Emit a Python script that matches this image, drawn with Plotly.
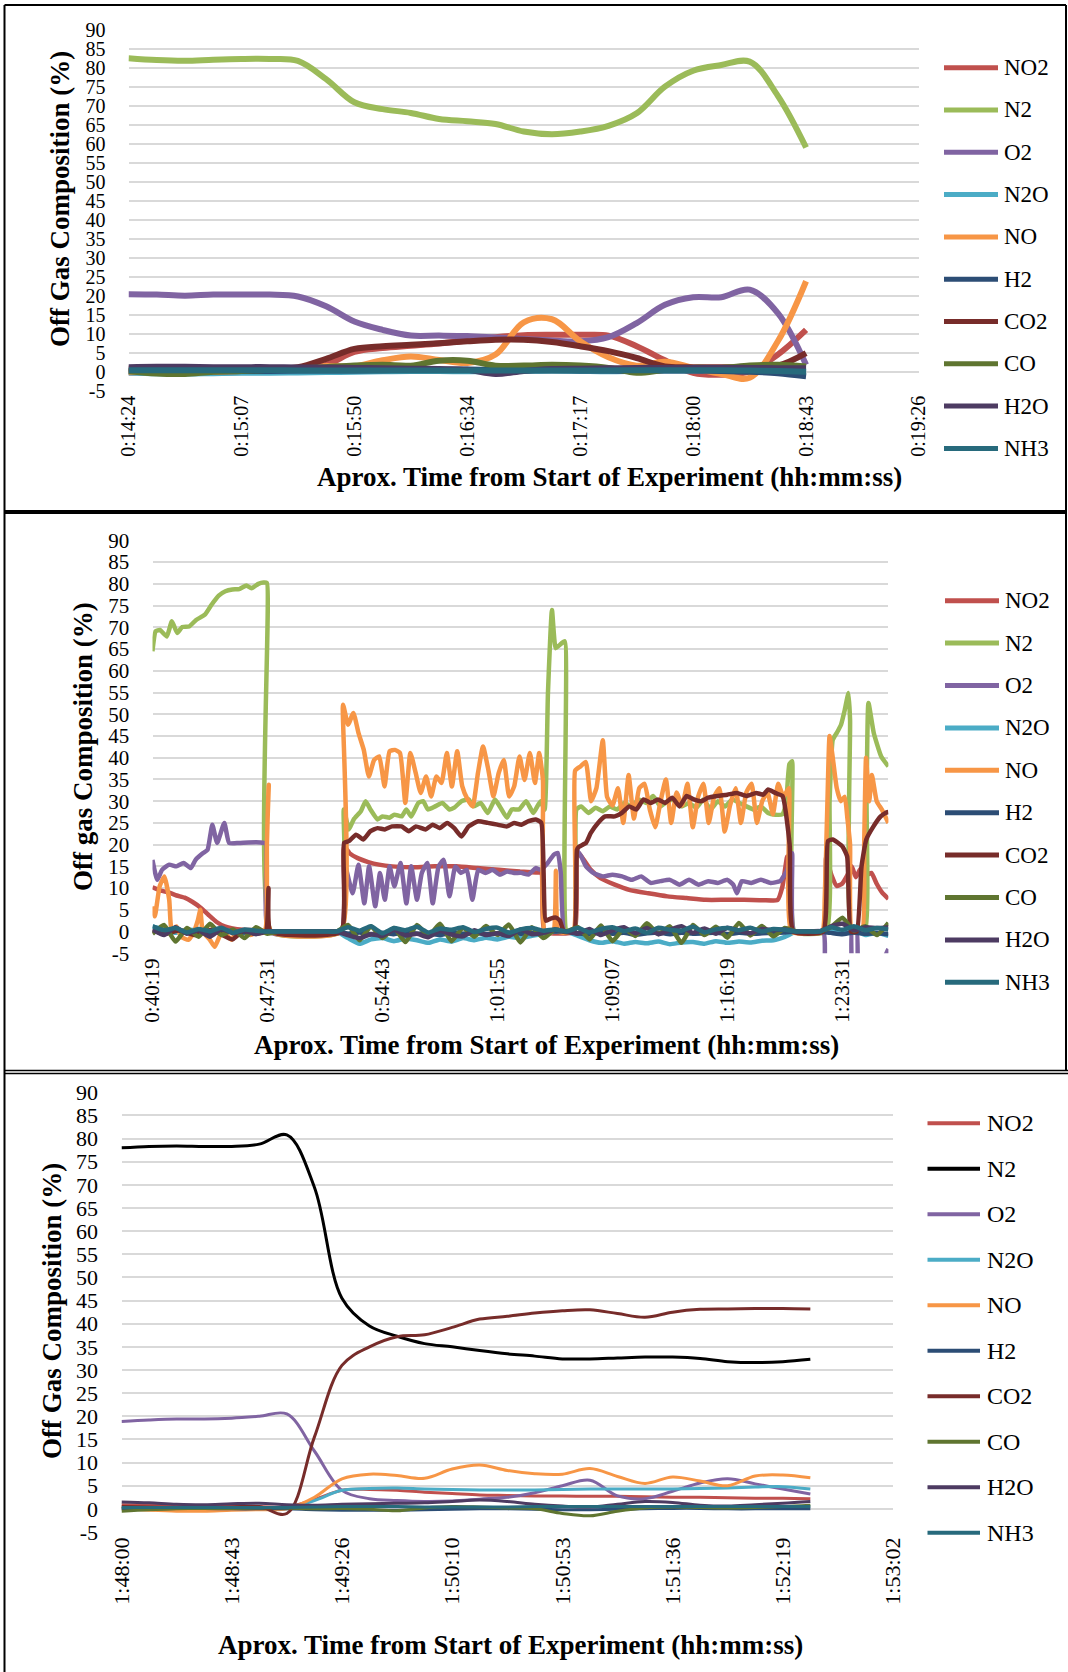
import plotly.graph_objects as go

W, H = 1068, 1672
SERIF = "Liberation Serif, Times New Roman, serif"

SPECIES = ["NO2", "N2", "O2", "N2O", "NO", "H2", "CO2", "CO", "H2O", "NH3"]
COLOR = {"NO2": "#C0504D", "N2": "#9BBB59", "O2": "#8064A2", "N2O": "#4BACC6",
         "NO": "#F79646", "H2": "#2C4D75", "CO2": "#772C2A", "CO": "#5F7530",
         "H2O": "#4D3B62", "NH3": "#276A7C"}

Y_TICKS = list(range(-5, 95, 5))

# ---------------- Run 1: 0:14:24 - 0:18:43 (times in seconds) ----------------
RUN1_TICKS = ["0:14:24", "0:15:07", "0:15:50", "0:16:34", "0:17:17", "0:18:00", "0:18:43", "0:19:26"]
RUN1_T = [864.0, 874.8, 885.6, 896.4, 907.2, 918.0, 928.8, 939.6, 950.4, 961.2, 972.0, 982.8,
          993.6, 1004.4, 1015.2, 1026.0, 1036.8, 1047.6, 1058.4, 1069.2, 1080.0, 1090.8,
          1101.6, 1112.4, 1123.2]
RUN1_NO2 = [-0.2, -0.2, -0.2, -0.2, -0.1, 0.0, 0.5, 1.8, 5.2, 6.2, 6.8, 7.4, 8.2, 9.1, 9.6,
            9.7, 9.7, 9.5, 6.7, 3.0, -0.3, -0.8, 0.1, 4.5, 11.0]
RUN1_N2 = [82.5, 82.0, 81.8, 82.1, 82.3, 82.3, 81.8, 77.0, 70.9, 69.1, 68.1, 66.5, 65.9, 65.2,
           63.2, 62.5, 63.2, 64.7, 68.0, 75.0, 79.2, 80.7, 81.6, 72.6, 59.0]
RUN1_O2 = [20.4, 20.3, 20.0, 20.3, 20.3, 20.3, 19.8, 17.2, 13.2, 11.0, 9.5, 9.5, 9.4, 9.0, 8.6,
           8.2, 8.0, 9.1, 12.8, 17.6, 19.6, 19.6, 21.6, 15.4, 1.8]
RUN1_N2O = [-0.2, -0.4, -0.5, -0.4, -0.3, -0.3, -0.2, -0.1, 0.0, 0.1, 0.2, 0.2, 0.1, 0.1, 0.2,
            0.3, 0.2, 0.1, 0.2, 0.3, 0.3, 0.3, 0.4, 0.5, 0.6]
RUN1_NO = [0.0, 0.0, 0.0, 0.0, 0.2, 0.5, 1.0, 1.5, 1.4, 3.0, 4.0, 3.1, 2.3, 4.5, 13.0, 13.8,
           8.0, 3.8, 1.6, 2.6, 1.0, -0.6, -1.6, 8.0, 23.8]
RUN1_H2 = [0.2, 0.2, 0.1, 0.1, 0.2, 0.2, 0.3, 0.3, 0.3, 0.4, 0.5, 0.5, 0.6, 0.5, 0.4, 0.4, 0.3,
           0.3, 0.2, 0.3, 0.3, 0.2, 0.0, -0.4, -1.2]
RUN1_CO2 = [0.8, 0.8, 0.8, 0.8, 0.8, 0.8, 1.2, 3.4, 6.0, 6.7, 7.1, 7.5, 8.0, 8.4, 8.4, 7.8,
            6.7, 5.4, 3.6, 1.4, 1.2, 1.2, 1.2, 1.6, 4.9]
RUN1_CO = [0.1, -0.5, -0.6, 0.0, 0.2, 0.5, 0.8, 1.2, 1.6, 1.8, 1.6, 2.9, 2.9, 1.6, 1.6, 1.8,
           1.6, 1.0, -0.3, 0.5, 1.0, 1.0, 1.6, 1.8, 1.4]
RUN1_H2O = [1.2, 1.3, 1.3, 1.2, 1.2, 1.2, 1.1, 1.1, 1.0, 0.9, 0.8, 0.7, 0.5, -0.6, 0.2, 0.7,
            0.8, 0.9, 1.0, 1.0, 1.0, 1.0, 1.0, 0.9, 0.9]
RUN1_NH3 = [0.4, 0.4, 0.4, 0.4, 0.4, 0.4, 0.3, 0.3, 0.3, 0.3, 0.3, 0.3, 0.3, 0.3, 0.3, 0.3,
            0.3, 0.3, 0.4, 0.4, 0.4, 0.4, 0.3, 0.2, 0.0]

# ---------------- Run 2: 0:40:19 - 1:26:24 ----------------
RUN2_TICKS = ["0:40:19", "0:47:31", "0:54:43", "1:01:55", "1:09:07", "1:16:19", "1:23:31"]

# main gases as (time s, %) readings
RUN2_N2 = [
    (2419, 64.5), (2431, 69.1), (2447, 69.4), (2473, 67.9), (2492, 71.4), (2512, 68.7),
    (2531, 70.1), (2557, 70.2), (2583, 71.7), (2616, 72.9), (2641, 75.2), (2668, 77.3),
    (2693, 78.3), (2719, 78.7), (2745, 78.8), (2772, 79.6), (2791, 79.0), (2817, 80.0),
    (2836, 80.3), (2849, 80.2), (2866, 0.0), (3128, 0.0),
    (3138, 28.1), (3157, 23.5), (3175, 25.8), (3202, 27.7), (3220, 30.0), (3238, 28.1),
    (3265, 25.8), (3283, 26.5), (3310, 26.2), (3328, 26.9), (3355, 26.5), (3373, 28.1),
    (3391, 26.5), (3418, 29.6), (3436, 30.0), (3454, 28.1), (3481, 28.8), (3508, 29.6),
    (3535, 28.1), (3553, 28.5), (3580, 30.0), (3607, 30.4), (3625, 28.8), (3652, 29.6),
    (3679, 27.3), (3706, 30.4), (3724, 28.8), (3751, 26.2), (3769, 28.1), (3796, 28.1),
    (3823, 30.0), (3850, 27.3), (3877, 30.0), (3892, 28.0),
    (3905, 55.0), (3920, 74.0), (3934, 65.2), (3950, 66.0), (3968, 66.8), (3975, 0.0), (4003, 0.0),
    (4012, 28.1), (4030, 28.8), (4057, 27.3), (4084, 28.5), (4111, 27.7), (4138, 28.8),
    (4165, 28.1), (4192, 29.6), (4219, 28.8), (4246, 30.4), (4273, 29.6), (4300, 31.2),
    (4327, 28.8), (4354, 30.0), (4381, 30.4), (4408, 28.8), (4435, 29.6), (4462, 28.5),
    (4489, 30.4), (4516, 28.1), (4543, 30.0), (4570, 28.8), (4597, 30.4), (4624, 29.6),
    (4651, 28.8), (4678, 28.1), (4705, 28.8), (4732, 27.3), (4759, 26.9), (4786, 27.0),
    (4800, 30.0), (4812, 38.5), (4822, 39.2), (4832, 0.0), (4950, 0.0),
    (4963, 30.0), (4975, 44.1), (4990, 45.7), (5006, 47.6), (5020, 51.0), (5034, 54.9),
    (5040, 48.7), (5046, 0.0), (5095, 0.0), (5102, 30.0), (5109, 52.6), (5129, 45.7),
    (5157, 40.3), (5184, 38.0),
]
RUN2_NO = [
    (2419, 5.8), (2428, 3.5), (2446, 10.4), (2464, 12.7), (2482, 7.3), (2491, 0.4),
    (2509, 1.2), (2527, -1.2), (2554, -1.9), (2572, -0.4), (2590, 2.7), (2599, 5.0),
    (2608, 0.0), (2635, -1.9), (2653, -3.5), (2680, 0.0), (2698, -0.8), (2716, -1.9),
    (2734, 0.0), (2761, 0.0), (2788, -0.8), (2815, 0.0), (2842, 0.4), (2849, 20.0),
    (2856, 33.8), (2865, 0.0), (3128, 0.0),
    (3135, 52.2), (3154, 47.6), (3174, 50.3), (3193, 45.7), (3213, 41.8), (3232, 35.7),
    (3252, 39.5), (3271, 40.3), (3291, 33.4), (3310, 41.5), (3330, 41.8), (3349, 41.1),
    (3369, 29.6), (3388, 41.1), (3408, 36.5), (3427, 31.9), (3447, 35.7), (3466, 31.1),
    (3486, 35.7), (3505, 34.2), (3525, 41.1), (3544, 33.4), (3564, 41.5), (3583, 33.4),
    (3603, 30.4), (3622, 28.8), (3642, 36.5), (3661, 42.6), (3681, 37.2), (3700, 31.1),
    (3720, 36.5), (3739, 39.5), (3759, 31.1), (3778, 33.4), (3798, 40.3), (3817, 34.9),
    (3837, 41.1), (3856, 34.2), (3872, 41.1), (3886, 34.9), (3893, 0.0), (3925, 0.0),
    (3935, 14.0), (3945, 0.0), (4000, 0.0),
    (4007, 37.0), (4027, 38.0), (4047, 39.0), (4067, 30.0), (4087, 33.0), (4111, 44.0),
    (4127, 31.0), (4147, 29.0), (4168, 33.0), (4188, 25.0), (4208, 36.0), (4228, 26.0),
    (4248, 33.0), (4268, 34.0), (4288, 28.0), (4308, 24.0), (4328, 30.0), (4348, 35.0),
    (4368, 25.0), (4388, 32.0), (4409, 29.0), (4429, 34.0), (4449, 24.0), (4469, 31.0),
    (4489, 34.0), (4509, 25.0), (4529, 31.0), (4549, 33.0), (4569, 23.0), (4589, 29.0),
    (4610, 33.0), (4630, 25.0), (4650, 32.0), (4670, 34.0), (4690, 25.0), (4710, 30.0),
    (4730, 32.0), (4750, 27.0), (4770, 34.0), (4790, 31.0), (4810, 33.0), (4820, 0.0),
    (4935, 0.0),
    (4945, 8.0), (4955, 30.0), (4963, 45.0), (4975, 40.0), (4990, 33.0), (5005, 30.0),
    (5020, 31.0), (5030, 26.0), (5040, 20.0), (5047, 0.0), (5085, 0.0), (5093, 20.0),
    (5100, 40.0), (5112, 30.0), (5122, 36.0), (5140, 30.0), (5160, 28.0), (5184, 25.0),
]
RUN2_CO2 = [
    (2419, 0.2), (2470, -0.5), (2520, 0.3), (2580, -0.8), (2640, 0.4), (2720, -1.8),
    (2760, 0.2), (2800, -0.5), (2845, 0.0), (2855, 10.0), (2863, 0.0), (3128, 0.0),
    (3139, 20.4), (3157, 20.8), (3184, 22.3), (3211, 21.2), (3238, 23.1), (3265, 23.8),
    (3292, 23.5), (3319, 24.2), (3355, 24.2), (3382, 23.1), (3409, 24.2), (3445, 23.5),
    (3472, 24.6), (3499, 23.8), (3526, 25.0), (3553, 23.8), (3580, 21.9), (3607, 24.2),
    (3643, 25.4), (3679, 25.0), (3715, 24.6), (3751, 24.2), (3778, 25.0), (3805, 24.6),
    (3832, 25.4), (3859, 25.8), (3880, 25.0), (3897, 2.5), (3915, 3.0), (3935, 3.2),
    (3950, 2.5), (3965, 0.0), (4003, 0.0),
    (4014, 18.8), (4021, 19.5), (4048, 20.4), (4066, 22.7), (4093, 25.0), (4120, 26.5),
    (4156, 26.5), (4183, 27.3), (4210, 28.8), (4237, 28.1), (4264, 30.4), (4291, 29.6),
    (4318, 30.4), (4345, 29.6), (4372, 30.8), (4399, 28.8), (4426, 31.2), (4453, 30.4),
    (4480, 30.0), (4507, 30.8), (4543, 31.2), (4579, 31.5), (4615, 31.9), (4651, 31.2),
    (4687, 31.9), (4714, 31.5), (4732, 32.7), (4759, 31.9), (4786, 31.2), (4813, 20.0),
    (4827, 0.0), (4939, 0.0),
    (4957, 20.8), (4975, 21.2), (5011, 19.6), (5029, 17.3), (5043, 0.0), (5065, 0.0),
    (5083, 15.0), (5101, 21.2), (5128, 24.2), (5155, 26.5), (5173, 27.3), (5184, 27.5),
]
RUN2_NO2 = [
    (2419, 10.2), (2450, 9.4), (2480, 9.0), (2510, 8.3), (2540, 7.8), (2570, 6.8),
    (2600, 5.5), (2630, 3.8), (2660, 2.2), (2690, 1.2), (2720, 0.7), (2760, 0.4),
    (2800, 0.3), (2850, 0.1), (2866, 0.0), (3128, 0.0),
    (3139, 19.6), (3160, 18.0), (3190, 16.9), (3230, 16.0), (3270, 15.4), (3320, 15.0),
    (3400, 14.8), (3480, 15.0), (3560, 15.0), (3640, 14.6), (3720, 14.2), (3800, 13.8),
    (3860, 13.6), (3880, 13.5), (3893, 0.0), (4003, 0.0),
    (4014, 18.5), (4040, 16.5), (4066, 14.2), (4102, 12.3), (4156, 10.8), (4210, 9.6),
    (4282, 8.8), (4354, 8.1), (4426, 7.7), (4498, 7.3), (4570, 7.3), (4642, 7.3),
    (4714, 7.2), (4768, 7.3), (4786, 10.4), (4804, 17.3), (4818, 10.0), (4826, 0.0),
    (4939, 0.0),
    (4950, 17.0), (4970, 13.0), (4990, 10.5), (5010, 11.0), (5030, 13.0), (5046, 15.0),
    (5062, 12.5), (5080, 14.5), (5100, 13.0), (5120, 13.5), (5140, 11.0), (5160, 9.0),
    (5184, 7.5),
]
RUN2_O2 = [
    (2419, 16.5), (2437, 11.9), (2455, 14.2), (2482, 15.4), (2509, 15.0), (2536, 15.8),
    (2563, 14.6), (2581, 16.5), (2608, 18.0), (2626, 18.8), (2644, 24.6), (2662, 20.4),
    (2689, 25.0), (2707, 20.4), (2743, 20.4), (2779, 20.5), (2824, 20.5), (2845, 20.2),
    (2856, 0.0), (3128, 0.0),
    (3140, 15.8), (3171, 8.8), (3193, 15.4), (3215, 6.5), (3233, 15.0), (3256, 5.8),
    (3274, 13.5), (3292, 7.3), (3310, 15.0), (3328, 10.4), (3351, 15.8), (3373, 6.5),
    (3391, 15.0), (3413, 7.3), (3431, 13.5), (3452, 15.8), (3472, 6.5), (3494, 15.0),
    (3513, 16.5), (3535, 8.1), (3557, 15.0), (3578, 13.5), (3600, 14.2), (3621, 7.3),
    (3643, 14.2), (3670, 13.5), (3697, 14.2), (3724, 13.1), (3751, 13.8), (3778, 13.5),
    (3805, 13.5), (3832, 13.1), (3859, 14.6), (3877, 14.2), (3904, 15.8), (3927, 17.7),
    (3942, 18.1), (3953, 13.5), (3967, 0.0), (4003, 0.0),
    (4012, 18.8), (4030, 17.3), (4048, 15.0), (4075, 13.5), (4111, 12.7), (4147, 13.1),
    (4183, 12.7), (4219, 11.9), (4255, 12.7), (4291, 11.2), (4327, 11.6), (4363, 11.9),
    (4399, 10.8), (4435, 11.9), (4471, 10.8), (4507, 11.6), (4543, 11.2), (4579, 11.9),
    (4601, 10.8), (4615, 8.8), (4633, 11.6), (4669, 11.2), (4705, 11.9), (4741, 11.2),
    (4777, 11.6), (4804, 14.2), (4822, 18.0), (4830, 0.0), (4939, 0.0),
    (4950, -15.0), (5040, -15.0), (5047, 0.0), (5065, 0.0), (5075, -15.0), (5150, -12.0),
    (5170, -6.0), (5184, -4.0),
]

# minor gases, one reading every 43.2 s from 0:40:19
RUN2_MINOR_START, RUN2_MINOR_STEP = 2419.2, 43.2
RUN2_N2O = [1.2, 0.5, -0.3, 0.4, 0.2, -0.5, 0.3, 0.1, -0.4, 0.2, 0.0,
            0, 0, 0, 0, 0, 0,
            -1.5, -2.8, -1.8, -1.5, -2.2, -1.6, -2.0, -2.6, -1.8, -2.3, -1.5, -2.0, -1.4, -1.8,
            -1.2, -1.5, -1.0, -0.5,
            0.0, 0.0,
            -1.0, -2.0, -2.6, -2.2, -2.8, -2.4, -2.7, -2.3, -2.9, -2.5, -2.4, -2.8, -2.2, -2.6,
            -2.3, -2.5, -2.1, -2.0, -1.2,
            0.0, 0.0, 0.0,
            0.3, -0.5, 0.4, -0.8, -0.3, -1.0]
RUN2_CO = [-0.5, 1.5, -2.3, 0.8, -1.2, 1.8, -0.8, 0.5, -1.5, 1.0, -0.5,
           0, 0, 0, 0, 0, 0,
           1.5, -2.0, 1.2, -1.5, 0.8, -2.4, 1.5, -1.0, 1.8, -2.2, 0.9, -1.2, 1.3, -0.8, 1.6,
           -2.5, 1.0, -1.5,
           0.5, 0.0,
           1.0, -1.8, 1.4, -2.2, 0.7, -1.0, 1.9, -0.6, 1.2, -2.6, 1.5, -0.8, 1.1, -1.4, 2.0,
           -0.9, 1.3, -1.1, 0.8,
           0, 0, 0,
           1.0, 3.2, 0.2, 1.2, -0.8, 2.0]
RUN2_H2O = [0.5, -0.8, 1.0, -0.5, 0.3, -1.2, 0.6, -0.4, 0.2, -0.6, 0.1,
            0, 0, 0, 0, 0, 0,
            -0.8, -1.5, -0.6, -1.0, 0.4, -0.9, -0.5, -1.3, 0.2, -0.7, -1.1, 0.3, -0.8, -0.4,
            -1.0, 0.5, -0.6, -0.3,
            0.5, 0.0,
            -0.5, 0.6, -0.8, 0.3, 1.0, -0.4, 0.8, -0.6, 0.4, 1.2, -0.3, 0.7, -0.5, 0.9, 0.2,
            -0.4, 0.6, 0.3, 0.5,
            0, 0, 0,
            1.2, 1.8, 0.3, 1.0, 0.8, 1.0]
RUN2_H2 = [0.2, -0.3, 0.4, -0.2, 0.1, -0.4, 0.3, 0.0, -0.2, 0.2, 0.0,
           0, 0, 0, 0, 0, 0,
           -0.5, -0.2, -0.7, -0.3, -0.6, -0.1, -0.5, -0.4, -0.8, -0.2, -0.5, -0.3, -0.6, -0.4,
           -0.2, -0.5, -0.3, -0.1,
           0.0, 0.0,
           -0.4, -0.6, -0.2, -0.5, -0.3, -0.7, -0.4, -0.2, -0.6, -0.3, -0.5, -0.4, -0.2, -0.6,
           -0.3, -0.5, -0.4, -0.3, -0.2,
           0, 0, 0,
           -0.3, -0.6, -0.2, -0.5, -0.4, -0.6]
RUN2_NH3 = [1.2, 0.3, 0.8, -0.2, 0.6, 0.1, 0.9, -0.3, 0.5, 0.2, 0.0,
            0, 0, 0, 0, 0, 0,
            1.0, 0.2, 1.2, -0.4, 0.8, 0.3, 1.1, -0.2, 0.7, 0.4, 1.0, -0.1, 0.6, 0.9, -0.3,
            0.5, 0.8, 0.2,
            0.5, 0.0,
            0.8, -0.2, 0.6, 1.0, 0.1, 0.7, -0.3, 0.9, 0.4, 0.2, 1.1, -0.2, 0.5, 0.8, 0.3,
            0.9, 0.0, 0.6, 0.4,
            0, 0, 0,
            1.0, 0.4, 1.2, 0.3, 0.8, 0.5]

# ---------------- Run 3: 1:48:00 - 1:52:30 ----------------
RUN3_TICKS = ["1:48:00", "1:48:43", "1:49:26", "1:50:10", "1:50:53", "1:51:36", "1:52:19", "1:53:02"]
RUN3_T = [6480.0, 6490.8, 6501.6, 6512.4, 6523.2, 6534.0, 6544.8, 6555.6, 6566.4, 6577.2,
          6588.0, 6598.8, 6609.6, 6620.4, 6631.2, 6642.0, 6652.8, 6663.6, 6674.4, 6685.2,
          6696.0, 6706.8, 6717.6, 6728.4, 6739.2, 6750.0]
RUN3_NO2 = [0.9, 0.8, 0.6, 0.5, 0.5, 0.5, 0.4, 2.0, 4.0, 4.2, 4.0, 3.6, 3.3, 3.0, 2.9, 2.8,
            2.8, 2.7, 2.7, 2.6, 2.5, 2.5, 2.4, 2.3, 2.3, 2.2]
RUN3_N2 = [78.0, 78.3, 78.4, 78.3, 78.3, 78.8, 80.8, 69.5, 45.5, 39.5, 37.3, 35.7, 35.0, 34.2,
           33.5, 33.0, 32.4, 32.4, 32.6, 32.8, 32.8, 32.5, 31.8, 31.6, 31.8, 32.3]
RUN3_O2 = [18.9, 19.2, 19.4, 19.4, 19.6, 20.0, 20.5, 12.5, 4.0, 2.2, 1.8, 1.6, 1.7, 2.1, 2.5,
           3.5, 5.0, 6.2, 2.8, 2.2, 3.8, 5.6, 6.5, 5.4, 4.3, 3.2]
RUN3_N2O = [0.1, 0.1, 0.1, 0.1, 0.1, 0.1, 0.0, 1.8, 4.0, 4.4, 4.5, 4.3, 4.2, 4.1, 4.1, 4.1,
            4.2, 4.3, 4.3, 4.3, 4.3, 4.4, 4.5, 4.7, 4.8, 4.3]
RUN3_NO = [0.0, -0.3, -0.5, -0.5, -0.3, -0.2, 0.0, 2.5, 6.5, 7.5, 7.2, 6.6, 8.6, 9.5, 8.3,
           7.6, 7.5, 8.7, 7.0, 5.5, 6.9, 6.0, 5.0, 7.1, 7.3, 6.7]
RUN3_H2 = [0.0, 0.0, 0.1, 0.1, 0.0, 0.0, 0.0, -0.2, -0.3, -0.3, -0.3, -0.2, -0.1, 0.0, 0.0,
           -0.1, -0.2, -0.2, -0.1, 0.0, 0.1, 0.1, 0.0, 0.0, 0.0, 0.0]
RUN3_CO2 = [0.5, 0.4, 0.3, 0.3, 0.4, 0.5, -1.0, 15.5, 31.0, 35.0, 37.2, 37.6, 39.2, 41.0,
            41.6, 42.3, 42.8, 43.0, 42.2, 41.4, 42.5, 43.1, 43.2, 43.3, 43.3, 43.2]
RUN3_CO = [-0.5, -0.2, 0.0, 0.1, 0.1, 0.2, 0.2, 0.0, 0.1, -0.1, -0.4, 0.2, 0.5, 0.4, 0.2, 0.0,
           -1.0, -1.5, -0.5, 0.2, 0.4, 0.3, 0.2, 0.3, 0.5, 0.8]
RUN3_H2O = [1.5, 1.3, 1.0, 0.9, 1.1, 1.2, 0.9, 0.8, 1.0, 1.1, 1.2, 1.3, 1.6, 1.9, 1.6, 1.0,
            0.6, 0.4, 1.0, 1.6, 1.4, 0.8, 0.6, 0.9, 1.2, 1.6]
RUN3_NH3 = [0.3, 0.3, 0.3, 0.3, 0.3, 0.3, 0.3, 0.4, 0.5, 0.5, 0.5, 0.4, 0.4, 0.4, 0.4, 0.5,
            0.5, 0.5, 0.5, 0.5, 0.5, 0.5, 0.5, 0.5, 0.5, 0.5]


def unzip(pairs):
    return [p[0] for p in pairs], [p[1] for p in pairs]


run2_minor_t = [RUN2_MINOR_START + RUN2_MINOR_STEP * k for k in range(len(RUN2_N2O))]

run1 = {"NO2": RUN1_NO2, "N2": RUN1_N2, "O2": RUN1_O2, "N2O": RUN1_N2O, "NO": RUN1_NO,
        "H2": RUN1_H2, "CO2": RUN1_CO2, "CO": RUN1_CO, "H2O": RUN1_H2O, "NH3": RUN1_NH3}
run1 = {k: (RUN1_T, v) for k, v in run1.items()}

run2 = {"NO2": unzip(RUN2_NO2), "N2": unzip(RUN2_N2), "O2": unzip(RUN2_O2),
        "NO": unzip(RUN2_NO), "CO2": unzip(RUN2_CO2),
        "N2O": (run2_minor_t, RUN2_N2O), "H2": (run2_minor_t, RUN2_H2),
        "CO": (run2_minor_t, RUN2_CO), "H2O": (run2_minor_t, RUN2_H2O),
        "NH3": (run2_minor_t, RUN2_NH3)}

run3 = {"NO2": RUN3_NO2, "N2": RUN3_N2, "O2": RUN3_O2, "N2O": RUN3_N2O, "NO": RUN3_NO,
        "H2": RUN3_H2, "CO2": RUN3_CO2, "CO": RUN3_CO, "H2O": RUN3_H2O, "NH3": RUN3_NH3}
run3 = {k: (RUN3_T, v) for k, v in run3.items()}

X_TITLE = "Aprox. Time from Start of Experiment (hh:mm:ss)"

# pixel geometry of each panel
panels = [
    dict(data=run1, ticks=RUN1_TICKS, start=864.0, step=43.2, end=1166.4,
         box=(128.5, 919.0, 29.7, 390.7), width=6, smooth=1.0, n2="#9BBB59", tick_size=20,
         ytitle="Off Gas Composition (%)", ytitle_at=(60, 199), xtitle_at=(609, 477),
         legend=(944, 998, 1002, 67.7, 42.3), legend_w=5, legend_font=23),
    dict(data=run2, ticks=RUN2_TICKS, start=2419.2, step=432.0, end=5184.0,
         box=(152.5, 888.4, 540.4, 953.3), width=4.5, smooth=0.45, n2="#9BBB59", tick_size=21,
         ytitle="Off gas Composition (%)", ytitle_at=(83, 747), xtitle_at=(546, 1045),
         legend=(945, 999, 1003, 600.7, 42.4), legend_w=5, legend_font=23),
    dict(data=run3, ticks=RUN3_TICKS, start=6480.0, step=43.2, end=6782.4,
         box=(121.5, 893.0, 1092.3, 1532.0), width=3, smooth=1.0, n2="#000000", tick_size=22,
         ytitle="Off Gas Composition (%)", ytitle_at=(52, 1311), xtitle_at=(510, 1645),
         legend=(927.5, 980, 985, 1123.3, 45.5), legend_w=4, legend_font=24),
]


def fx(x):
    return x / W


def fy(y):
    return 1 - y / H


fig = go.Figure()
# fixed zero margins: nothing may push them, so paper coordinates span the whole page
layout = dict(width=W, height=H, margin=dict(l=0, r=0, t=0, b=0, pad=0, autoexpand=False),
              paper_bgcolor="white", plot_bgcolor="white", showlegend=False)
annotations, shapes = [], []

for i, p in enumerate(panels, start=1):
    sfx = "" if i == 1 else str(i)
    xa, ya = "x" + sfx, "y" + sfx
    left, right, top, bottom = p["box"]
    tick_font = dict(family=SERIF, size=p["tick_size"], color="black")
    for name in SPECIES:
        t, v = p["data"][name]
        color = p["n2"] if name == "N2" else COLOR[name]
        fig.add_trace(go.Scatter(
            x=t, y=v, mode="lines", name=name, xaxis=xa, yaxis=ya, hoverinfo="skip",
            line=dict(color=color, width=p["width"], shape="spline", smoothing=p["smooth"])))
    tickvals = [p["start"] + p["step"] * k for k in range(len(p["ticks"]))]
    layout["xaxis" + sfx] = dict(
        domain=[fx(left), fx(right)], anchor=ya, range=[p["start"], p["end"]],
        tickmode="array", tickvals=tickvals, ticktext=p["ticks"], tickangle=-90,
        showgrid=False, zeroline=False, showline=False, ticks="", tickfont=tick_font,
        automargin=False, fixedrange=True)
    layout["yaxis" + sfx] = dict(
        domain=[fy(bottom), fy(top)], anchor=xa, range=[-5, 90],
        tickmode="array", tickvals=Y_TICKS, ticktext=[str(v) for v in Y_TICKS],
        showgrid=True, gridcolor="#D9D9D9", gridwidth=1.5, zeroline=False, showline=False,
        ticks="outside", ticklen=18, tickcolor="rgba(0,0,0,0)", tickfont=tick_font,
        automargin=False, fixedrange=True)

    # axis titles
    tx, ty = p["ytitle_at"]
    annotations.append(dict(text=p["ytitle"], x=fx(tx), y=fy(ty), xref="paper", yref="paper",
                            showarrow=False, textangle=-90, xanchor="center", yanchor="middle",
                            font=dict(family=SERIF, size=27, color="black", weight="bold")))
    tx, ty = p["xtitle_at"]
    annotations.append(dict(text=X_TITLE, x=fx(tx), y=fy(ty), xref="paper", yref="paper",
                            showarrow=False, xanchor="center", yanchor="middle",
                            font=dict(family=SERIF, size=27, color="black", weight="bold")))

    # legend entries
    lx0, lx1, ltx, ly0, ldy = p["legend"]
    for k, name in enumerate(SPECIES):
        yy = ly0 + ldy * k
        color = p["n2"] if name == "N2" else COLOR[name]
        shapes.append(dict(type="line", xref="paper", yref="paper",
                           x0=fx(lx0), x1=fx(lx1), y0=fy(yy), y1=fy(yy),
                           line=dict(color=color, width=p["legend_w"])))
        annotations.append(dict(text=name, x=fx(ltx), y=fy(yy), xref="paper", yref="paper",
                                showarrow=False, xanchor="left", yanchor="middle",
                                font=dict(family=SERIF, size=p["legend_font"], color="black")))

# panel frames
frame = [
    (4.5, 5, 4.5, H, 2), (4.5, 5, 1066, 5, 2), (1066, 5, 1066, 1071, 2),
    (4.5, 512, 1066, 512, 4), (4.5, 1070.5, 1068, 1070.5, 1.5), (4.5, 1073.5, 1068, 1073.5, 1.5),
]
for x0, y0, x1, y1, w in frame:
    shapes.append(dict(type="line", xref="paper", yref="paper", x0=fx(x0), y0=fy(y0),
                       x1=fx(x1), y1=fy(y1), line=dict(color="black", width=w)))

layout["annotations"] = annotations
layout["shapes"] = shapes
fig.update_layout(**layout)
fig.write_html("out.html")
